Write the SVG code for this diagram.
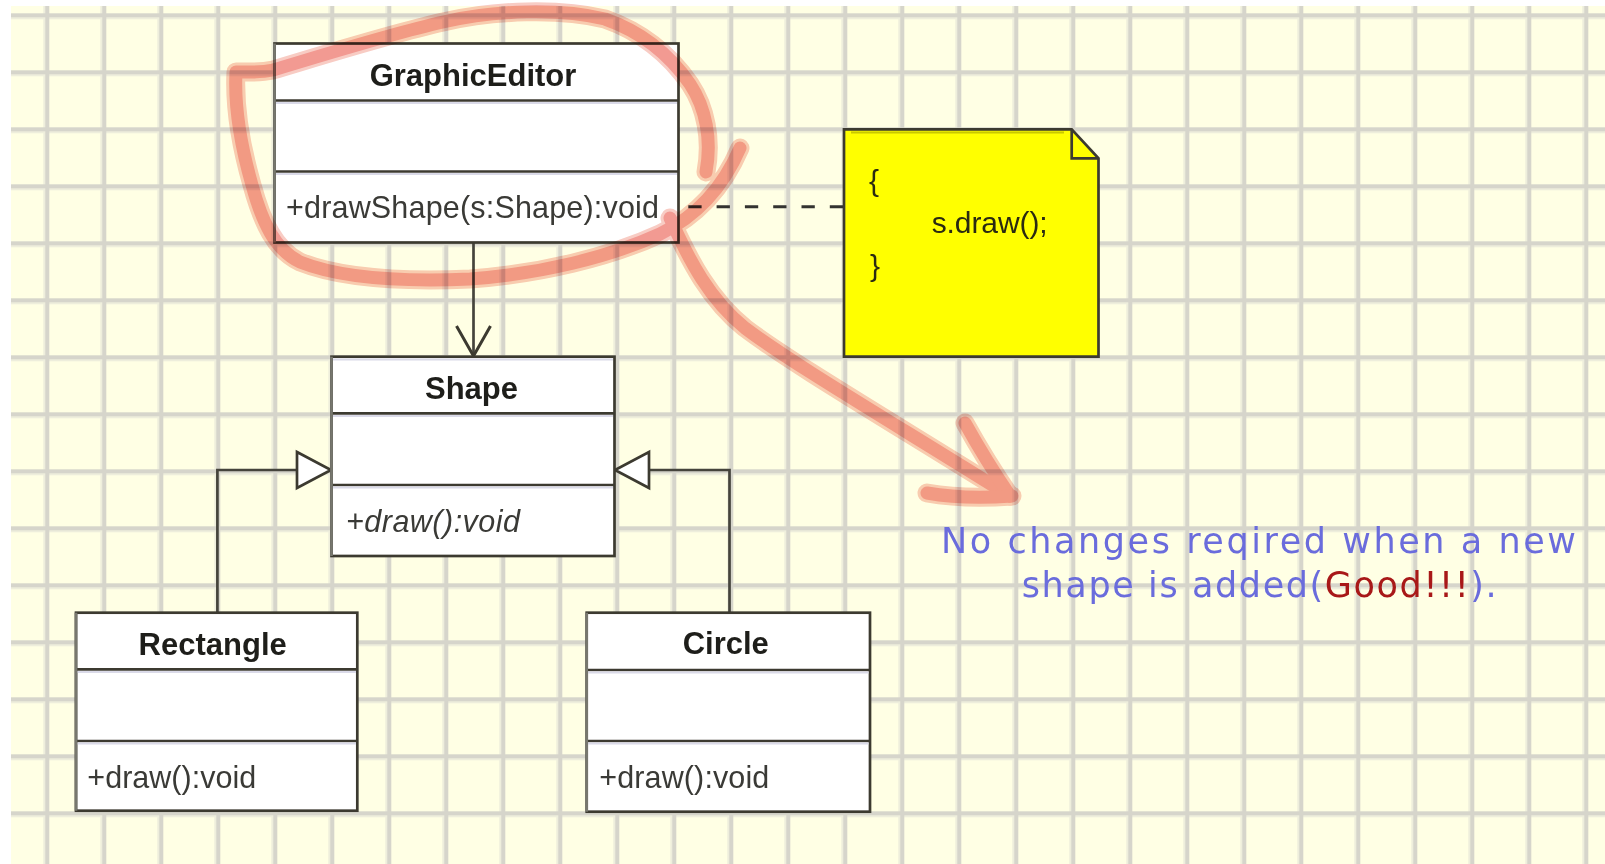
<svg xmlns="http://www.w3.org/2000/svg" width="1605" height="864" viewBox="0 0 1605 864">
<defs>
<pattern id="grid" patternUnits="userSpaceOnUse" x="41.3" y="9.3" width="57" height="57">
<rect x="2" y="0" width="2" height="57" fill="#eeeedc"/>
<rect x="0" y="8" width="57" height="2" fill="#eeeedc"/>
<rect x="4" y="0" width="4" height="57" fill="#d6d5cb"/>
<rect x="0" y="4" width="57" height="4" fill="#d6d5cb"/>
</pattern>
<marker id="gen" markerUnits="userSpaceOnUse" viewBox="0 0 35 38" refX="35" refY="19" markerWidth="35" markerHeight="38" orient="auto" overflow="visible">
<path d="M1,1 L35,19 L1,37 Z" fill="#ffffff" stroke="#3c3a30" stroke-width="2.7"/>
</marker>
<marker id="nav" markerUnits="userSpaceOnUse" viewBox="0 0 32 36" refX="30" refY="18" markerWidth="32" markerHeight="36" orient="auto" overflow="visible">
<path d="M0,1 L30,18 L0,35" fill="none" stroke="#3c3a30" stroke-width="3"/>
</marker>
</defs>
<style>
.box{fill:#ffffff;stroke:#3c3a30;stroke-width:2.7}
.div{stroke:#3c3a30;stroke-width:2.7}
.sh{stroke:#dadae8;stroke-width:2}
.le{stroke:#77776e;stroke-width:2.7}
.title{font-family:"Liberation Sans",Arial,sans-serif;font-weight:bold;font-size:31px;fill:#1e1e1a;text-anchor:middle}
.mem{font-family:"Liberation Sans",Arial,sans-serif;font-size:30.5px;fill:#3a3a36}
.conn{fill:none;stroke:#45443c;stroke-width:2.7}
.dash{fill:none;stroke:#333330;stroke-width:3;stroke-dasharray:13.3 15}
.nt{font-family:"Liberation Sans",Arial,sans-serif;font-size:30px;fill:#2a2a12}
.blue{font-family:"DejaVu Sans",Verdana,sans-serif;font-size:35px;fill:#6a6cdc}
.red{fill:#a81818}
.hand{fill:none;stroke-linecap:round;stroke-linejoin:round}
</style>

<rect width="1605" height="864" fill="#ffffff"/>
<rect x="11" y="6" width="1594" height="858" fill="#ffffe4"/>
<rect x="11" y="6" width="1594" height="858" fill="url(#grid)"/>

<g id="connectors">
<path class="conn" d="M473.5,242.5 V356" marker-end="url(#nav)"/>
<path class="conn" d="M217.4,612.7 V470 H331" marker-end="url(#gen)"/>
<path class="conn" d="M729.5,612.7 V470 H615" marker-end="url(#gen)"/>
<path class="dash" d="M660,206.7 H844"/>
</g>

<g id="graphic-editor">
<rect class="box" x="274.5" y="43.5" width="404" height="199"/>
<line class="div" x1="274.5" y1="100.5" x2="678.5" y2="100.5"/>
<line class="sh" x1="276" y1="103" x2="677" y2="103"/>
<line class="div" x1="274.5" y1="171.5" x2="678.5" y2="171.5"/>
<line class="sh" x1="276" y1="174" x2="677" y2="174"/>
<line class="le" x1="274.5" y1="43.5" x2="274.5" y2="242.5"/>
<text class="title" x="473" y="85.5">GraphicEditor</text>
<text class="mem" x="286" y="218" textLength="373" lengthAdjust="spacing">+drawShape(s:Shape):void</text>
</g>

<g id="shape">
<rect class="box" x="331.5" y="356.7" width="283" height="199.3"/>
<line class="sh" x1="333" y1="359.5" x2="613" y2="359.5"/>
<line class="div" x1="331.5" y1="413.3" x2="614.5" y2="413.3"/>
<line class="sh" x1="333" y1="416" x2="613" y2="416"/>
<line class="div" x1="331.5" y1="485" x2="614.5" y2="485"/>
<line class="sh" x1="333" y1="487.5" x2="613" y2="487.5"/>
<line class="le" x1="331.5" y1="356.7" x2="331.5" y2="556"/>
<text class="title" x="471.5" y="399">Shape</text>
<text class="mem" x="346" y="531.5" font-style="italic" textLength="174" lengthAdjust="spacing">+draw():void</text>
</g>

<g id="rectangle">
<rect class="box" x="76" y="612.7" width="281.3" height="198"/>
<line class="div" x1="76" y1="669.3" x2="357.3" y2="669.3"/>
<line class="sh" x1="77.5" y1="672" x2="356" y2="672"/>
<line class="div" x1="76" y1="741" x2="357.3" y2="741"/>
<line class="sh" x1="77.5" y1="743.5" x2="356" y2="743.5"/>
<line class="le" x1="76" y1="612.7" x2="76" y2="810.7"/>
<text class="title" x="212.7" y="654.5">Rectangle</text>
<text class="mem" x="87.3" y="788" textLength="169" lengthAdjust="spacing">+draw():void</text>
</g>

<g id="circle">
<rect class="box" x="586.7" y="612.7" width="283.3" height="199"/>
<line class="div" x1="586.7" y1="670" x2="870" y2="670"/>
<line class="sh" x1="588" y1="672.5" x2="868.5" y2="672.5"/>
<line class="div" x1="586.7" y1="741" x2="870" y2="741"/>
<line class="sh" x1="588" y1="743.5" x2="868.5" y2="743.5"/>
<line class="le" x1="586.7" y1="612.7" x2="586.7" y2="811.7"/>
<text class="title" x="725.8" y="654">Circle</text>
<text class="mem" x="599.3" y="788" textLength="170" lengthAdjust="spacing">+draw():void</text>
</g>

<g id="note">
<path d="M844,129.3 H1071.7 L1098.5,158.3 V356.7 H844 Z" fill="#ffff00" stroke="#3c3a30" stroke-width="2.7"/>
<line x1="851" y1="132.5" x2="1064" y2="132.5" stroke="#c8c800" stroke-width="2"/>
<path d="M1071.7,129.3 V158.3 H1098.5" fill="none" stroke="#3c3a30" stroke-width="2.7"/>
<text class="nt" x="869" y="191">{</text>
<text class="nt" x="931.7" y="233" textLength="116" lengthAdjust="spacing">s.draw();</text>
<text class="nt" x="870" y="275.5">}</text>
</g>

<g id="annotation" style="mix-blend-mode:multiply">
<g class="hand" stroke="#f8ccc4" stroke-width="19">
<path d="M706,172 C712,140 706,108 690,84 C672,58 645,33 605,19 C560,8 495,10 443,22 C390,34 320,56 273,70 C258,73 244,72 236,72 C234,110 242,150 252,185 C262,222 275,250 300,262 C340,278 400,282 470,279 C540,274 610,257 660,234 C695,217 722,190 740,148"/>
<path d="M670,218 C690,262 710,300 745,328 C790,362 880,415 1010,496"/>
<path d="M965,423 C980,450 995,474 1010,496"/>
<path d="M927,493 C955,498 985,498 1012,496"/>
</g>
<g class="hand" stroke="#f29a92" stroke-width="13">
<path d="M706,172 C712,140 706,108 690,84 C672,58 645,33 605,19 C560,8 495,10 443,22 C390,34 320,56 273,70 C258,73 244,72 236,72 C234,110 242,150 252,185 C262,222 275,250 300,262 C340,278 400,282 470,279 C540,274 610,257 660,234 C695,217 722,190 740,148"/>
<path d="M670,218 C690,262 710,300 745,328 C790,362 880,415 1010,496"/>
<path d="M965,423 C980,450 995,474 1010,496"/>
<path d="M927,493 C955,498 985,498 1012,496"/>
</g>
</g>

<g id="comment">
<text class="blue" x="941" y="552.5" textLength="635" lengthAdjust="spacing">No changes reqired when a new</text>
<text class="blue" x="1021.7" y="597" textLength="475" lengthAdjust="spacing">shape is added(<tspan class="red">Good!!!</tspan>).</text>
</g>
</svg>
